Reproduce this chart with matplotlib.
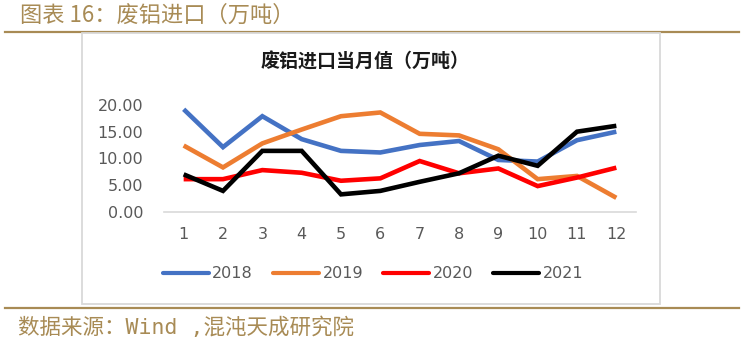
import matplotlib
matplotlib.use("Agg")
import matplotlib.pyplot as plt
from matplotlib.patches import Rectangle
from matplotlib.lines import Line2D

plt.rcParams['font.family'] = ['Noto Sans CJK SC', 'DejaVu Sans']

# Monthly scrap aluminium imports (10k tonnes)
months = [1, 2, 3, 4, 5, 6, 7, 8, 9, 10, 11, 12]
month_labels = [str(m) for m in months]
imports_2018 = [19.2, 12.1, 17.9, 13.6, 11.4, 11.1, 12.5, 13.25, 9.7, 9.4, 13.4, 15.0]
imports_2019 = [12.4, 8.3, 12.8, 15.4, 17.9, 18.6, 14.6, 14.3, 11.7, 6.1, 6.7, 2.6]
imports_2020 = [6.1, 6.1, 7.8, 7.3, 5.8, 6.25, 9.5, 7.2, 8.1, 4.8, 6.4, 8.25]
imports_2021 = [7.0, 3.9, 11.4, 11.4, 3.25, 3.9, 5.6, 7.2, 10.5, 8.6, 15.0, 16.1]
series_names = ['2018', '2019', '2020', '2021']
series_colors = ['#4472C4', '#ED7D31', '#FF0000', '#000000']
y_ticks = [0, 5, 10, 15, 20]

W, H = 750, 346
fig = plt.figure(figsize=(W / 100, H / 100), dpi=100)

gold = '#a88b55'
# header / footer rules
fig.add_artist(Line2D([5 / W, 739 / W], [1 - 32.3 / H, 1 - 32.3 / H], color=gold, lw=1.6, zorder=1))
fig.add_artist(Line2D([5 / W, 739 / W], [1 - 307.5 / H, 1 - 307.5 / H], color=gold, lw=1.6, zorder=1))
# chart frame
fig.add_artist(Rectangle((82 / W, 1 - 304 / H), (660 - 82) / W, (304 - 32.5) / H,
                         facecolor='white', edgecolor='#d9d9d9', lw=1.3, zorder=2))

fig.text(20 / W, 1 - 15 / H, '图表 16：废铝进口（万吨）', color=gold, fontsize=16,
         ha='left', va='center')
fig.text(18 / W, 1 - 327 / H, '数据来源：Wind ,混沌天成研究院', color=gold, fontsize=15.5,
         family=['DejaVu Sans Mono', 'Noto Sans CJK SC'], ha='left', va='center')
fig.text(365 / W, 1 - 62 / H, '废铝进口当月值（万吨）', color='#1a1a1a', fontsize=13.7,
         fontweight='bold', ha='center', va='center', zorder=5)

ax = fig.add_axes([164 / W, 1 - 211.7 / H, (636 - 164) / W, (211.7 - 105) / H])
ax.set_zorder(5)
ax.patch.set_alpha(0)

all_series = [imports_2018, imports_2019, imports_2020, imports_2021]
for vals, name, col in zip(all_series, series_names, series_colors):
    ax.plot(months, vals, color=col, lw=3.3, solid_joinstyle='miter',
            solid_capstyle='butt', clip_on=False, label=name)

ax.set_xlim(0.5, 12.5)
ax.set_ylim(0, 20)
ax.set_xticks(months)
ax.set_xticklabels(month_labels, family='DejaVu Sans')
ax.set_yticks(y_ticks)
ax.set_yticklabels([f'{v:.2f}' for v in y_ticks], family='DejaVu Sans')
ax.tick_params(axis='both', length=0, labelsize=11.5, labelcolor='#595959')
ax.tick_params(axis='y', pad=15)
ax.tick_params(axis='x', pad=11)
for side in ['top', 'right', 'left']:
    ax.spines[side].set_visible(False)
ax.spines['bottom'].set_color('#d9d9d9')
ax.spines['bottom'].set_linewidth(1.2)

leg_handles = [Line2D([], [], color=c, lw=3.0, solid_capstyle='round') for c in series_colors]
leg = fig.legend(leg_handles, series_names, loc='center', ncol=4,
                 bbox_to_anchor=(373 / W, 1 - 274 / H), frameon=False,
                 prop={'family': 'DejaVu Sans', 'size': 11.5},
                 handlelength=2.9, handletextpad=0.2, columnspacing=1.25)
leg.set_zorder(6)
for t in leg.get_texts():
    t.set_color('#595959')

fig.savefig('out.png', dpi=100, facecolor='white')
